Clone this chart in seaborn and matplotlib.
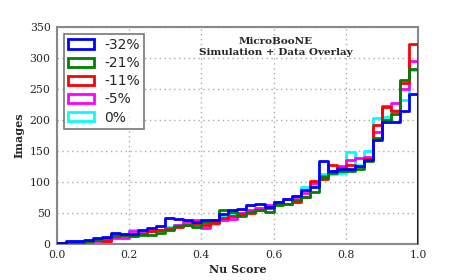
import numpy as np
import pandas as pd
import matplotlib
matplotlib.use("Agg")
import matplotlib.pyplot as plt
from matplotlib.patches import Patch
import seaborn as sns

# 40 bins of width 0.025 between 0 and 1
bin_edges = np.linspace(0, 1, 41)
bin_centers = (bin_edges[:-1] + bin_edges[1:]) / 2

labels = ["-32%", "-21%", "-11%", "-5%", "0%"]
colors = ["#0000ff", "#008000", "#ff0000", "#ff00ff", "#00ffff"]

counts_m32 = [1, 4, 5, 7, 9, 11, 17, 16, 16, 22, 26, 29, 41, 40, 38, 36, 38, 38, 48, 55,
              57, 62, 65, 60, 68, 72, 77, 87, 92, 133, 118, 120, 120, 125, 135, 168, 197, 197, 214, 241]
counts_m21 = [1, 3, 3, 5, 7, 9, 14, 14, 13, 14, 15, 18, 22, 29, 30, 27, 36, 38, 55, 52,
              45, 52, 55, 52, 62, 65, 71, 75, 83, 108, 115, 118, 118, 120, 134, 170, 200, 210, 265, 282]
counts_m11 = [1, 2, 3, 4, 6, 5, 12, 14, 13, 16, 20, 22, 24, 28, 30, 32, 30, 33, 42, 45,
              48, 50, 55, 58, 66, 65, 68, 75, 101, 105, 128, 122, 128, 125, 137, 192, 220, 215, 260, 323]
counts_m5 = [1, 2, 3, 3, 4, 5, 10, 10, 20, 18, 20, 22, 25, 30, 36, 38, 25, 35, 38, 40,
             50, 55, 58, 62, 68, 72, 76, 82, 99, 109, 118, 125, 135, 139, 140, 180, 222, 228, 250, 295]
counts_0 = [1, 3, 4, 5, 7, 8, 12, 12, 22, 20, 20, 22, 27, 30, 34, 35, 32, 32, 45, 48,
            50, 52, 56, 60, 68, 72, 78, 91, 95, 113, 112, 115, 149, 127, 150, 203, 205, 216, 232, 281]

all_counts = [counts_m32, counts_m21, counts_m11, counts_m5, counts_0]

df = pd.concat([pd.DataFrame({"score": bin_centers, "count": c, "shift": lab})
                for lab, c in zip(labels, all_counts)], ignore_index=True)

sns.set_style("whitegrid")
plt.rcParams["font.family"] = ["DejaVu Sans"]

fig = plt.figure(figsize=(4.66, 2.8), dpi=100)
ax = fig.add_axes([0.122, 0.129, 0.775, 0.775])

# one empty bin past 1.0 so every outline drops back to zero at the right edge
sns.histplot(data=df, x="score", weights="count", hue="shift", hue_order=labels,
             binwidth=0.025, binrange=(0, 1.025), element="step", fill=False,
             palette=colors, linewidth=2, legend=False, zorder=3, ax=ax)

ax.set_xlim(0, 1)
ax.set_ylim(0, 350)
ax.set_xticks(np.arange(0, 1.01, 0.2))
ax.set_yticks(np.arange(0, 351, 50))
ax.grid(True, linestyle=(0, (1, 2.5)), color="#aaaaaa", linewidth=1)
for s in ax.spines.values():
    s.set_visible(True)
    s.set_color("#888888")
    s.set_linewidth(1.5)
ax.tick_params(axis="both", labelsize=7.8, length=3, width=0.8, color="#888888", pad=1.5)
for t in ax.get_xticklabels() + ax.get_yticklabels():
    t.set_family("DejaVu Serif")

ax.set_xlabel("Nu Score", fontsize=8, fontweight="bold", family="DejaVu Serif", labelpad=3)
ax.set_ylabel("Images", fontsize=8, fontweight="bold", family="DejaVu Serif", labelpad=4)

ax.text(0.607, 0.955, "MicroBooNE\nSimulation + Data Overlay", transform=ax.transAxes,
        ha="center", va="top", fontsize=7.5, fontweight="bold", family="DejaVu Serif",
        linespacing=1.3)

handles = [Patch(facecolor="none", edgecolor=c, linewidth=2) for c in colors]
leg = ax.legend(handles, labels, loc="upper left", fontsize=10, frameon=True,
                fancybox=False, handlelength=1.9, handleheight=0.65, handletextpad=0.7,
                borderpad=0.3, labelspacing=0.3, borderaxespad=0,
                bbox_to_anchor=(0.019, 0.968))
leg.get_frame().set_edgecolor("#555555")
leg.get_frame().set_linewidth(1.2)

fig.savefig("out.png", dpi=100)
